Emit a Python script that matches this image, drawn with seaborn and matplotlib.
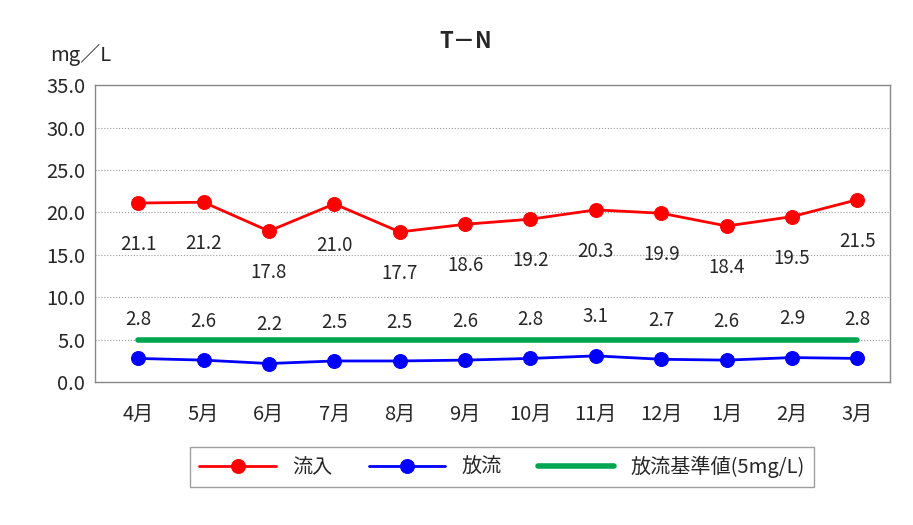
import matplotlib
matplotlib.use("Agg")
import matplotlib.pyplot as plt
import seaborn as sns
import pandas as pd

months = ["4月", "5月", "6月", "7月", "8月", "9月", "10月", "11月", "12月", "1月", "2月", "3月"]
inflow = [21.1, 21.2, 17.8, 21.0, 17.7, 18.6, 19.2, 20.3, 19.9, 18.4, 19.5, 21.5]
outflow = [2.8, 2.6, 2.2, 2.5, 2.5, 2.6, 2.8, 3.1, 2.7, 2.6, 2.9, 2.8]
standard = [5.0] * 12

sns.set_style("white")
plt.rcParams["font.family"] = ["Noto Sans CJK JP", "DejaVu Sans"]

df = pd.DataFrame({"month": months, "x": range(12), "流入": inflow, "放流": outflow, "基準": standard})

fig = plt.figure(figsize=(9.13, 5.25), dpi=100)
ax = fig.add_axes([0.104, 0.272, 0.871, 0.566])

sns.lineplot(data=df, x="x", y="基準", ax=ax, color="#00a550", linewidth=4, label="放流基準値(5mg/L)", zorder=2)
sns.lineplot(data=df, x="x", y="流入", ax=ax, color="#ff0000", linewidth=2, marker="o", markersize=10,
             markeredgecolor="#ff0000", label="流入", zorder=3)
sns.lineplot(data=df, x="x", y="放流", ax=ax, color="#0000ff", linewidth=2, marker="o", markersize=10,
             markeredgecolor="#0000ff", label="放流", zorder=3)

for i, (a, b) in enumerate(zip(inflow, outflow)):
    ax.annotate(f"{a:.1f}", (i, a), xytext=(0, -30), textcoords="offset points", ha="center", va="center", fontsize=13.5)
    ax.annotate(f"{b:.1f}", (i, b), xytext=(0, 28), textcoords="offset points", ha="center", va="center", fontsize=13.5)

ax.set_xlim(-0.66, 11.5)
ax.set_ylim(0, 35)
ax.set_yticks([i * 5 for i in range(8)])
ax.set_yticklabels([f"{i * 5:.1f}" for i in range(8)], fontsize=14.5)
ax.set_xticks(range(12))
ax.set_xticklabels(months, fontsize=14.5)
ax.tick_params(axis="x", pad=12)
ax.set_xlabel("")
ax.set_ylabel("")
for y in range(5, 35, 5):
    ax.axhline(y, color="#999999", linestyle=":", linewidth=0.8, zorder=1)
for s in ax.spines.values():
    s.set_color("#888888")
    s.set_linewidth(1)

fig.text(0.51, 0.92, "T－N", ha="center", va="center", fontsize=16, fontweight="bold")
fig.text(0.088, 0.895, "mg／L", ha="center", va="center", fontsize=14.5)

h, l = ax.get_legend_handles_labels()
order = [1, 2, 0]
ax.legend([h[i] for i in order], [l[i] for i in order], loc="center", bbox_to_anchor=(0.512, -0.286),
          ncol=3, frameon=True, fancybox=False, edgecolor="#888888", fontsize=14.5, handlelength=3.8,
          columnspacing=1.8, borderpad=0.45)

fig.savefig("out.png", dpi=100)
